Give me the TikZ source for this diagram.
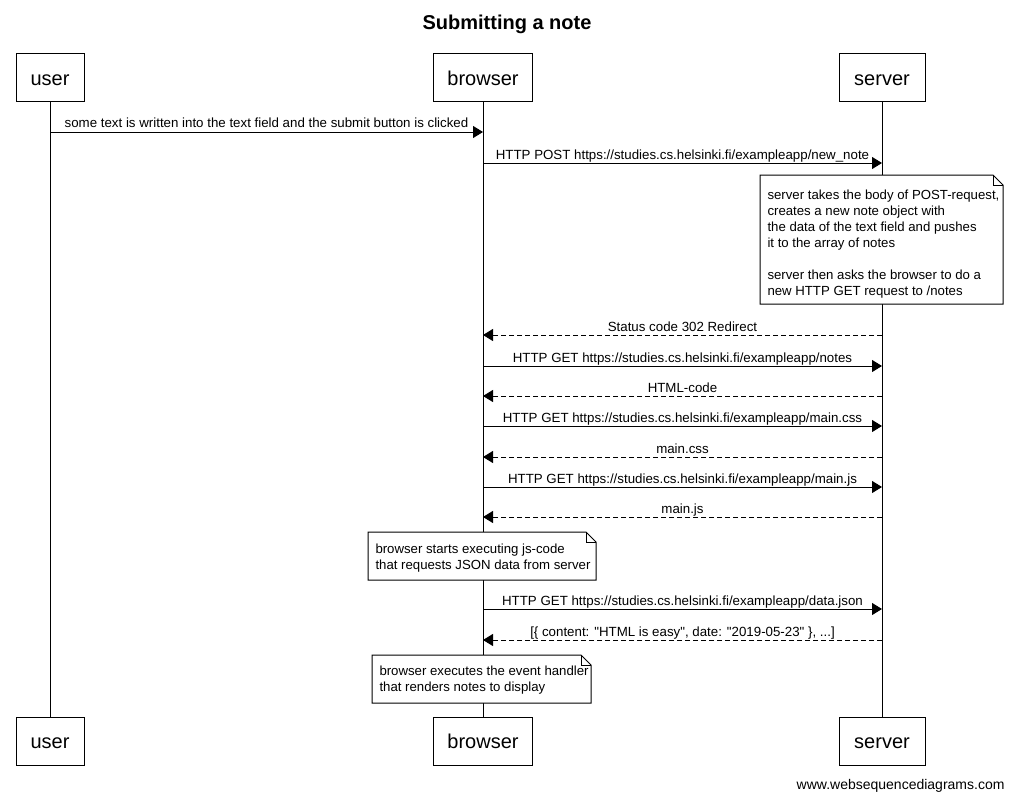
\documentclass[tikz,border=0pt]{standalone}
\usepackage{fontspec}
\setmainfont{Liberation Sans}[Ligatures=TeXOff]
\usetikzlibrary{arrows.meta}
\begin{document}
\begin{tikzpicture}[x=1pt,y=-1pt,line width=1pt,
  actor/.style={draw,minimum height=48pt,inner sep=0pt,text height=19pt,text depth=4pt,font=\fontsize{20}{24}\selectfont},
  msg/.style={-{Triangle[length=10pt,width=12pt]}},
  reply/.style={msg,dash pattern=on 5pt off 3pt},
  lbl/.style={anchor=base,yshift=4pt,inner sep=0pt,font=\fontsize{13.3}{16}\selectfont},
  notebox/.style={draw,fill=white},
  notetext/.style={anchor=west,inner sep=0pt,align=left,font=\fontsize{13.2}{16}\selectfont}]
\path[use as bounding box,fill=white] (0,0) rectangle (1013,800);
\node[font=\fontsize{20}{24}\selectfont\bfseries] (title) at (507,24) {Submitting a note};
% actors
\node[actor,minimum width=68pt] (ut) at (50,77.5) {user};
\node[actor,minimum width=99pt] (bt) at (483,77.5) {browser};
\node[actor,minimum width=86pt] (st) at (882,77.5) {server};
\node[actor,minimum width=68pt] (ub) at (50,741) {user};
\node[actor,minimum width=99pt] (bb) at (483,741) {browser};
\node[actor,minimum width=86pt] (sb) at (882,741) {server};
\draw (ut.south) -- (ub.north);
\draw (bt.south) -- (bb.north);
\draw (st.south) -- (sb.north);
% messages
\draw[msg] (ut.south |- 0,132) -- node[lbl]{some text is written into the text field and the submit button is clicked} (bt.south |- 0,132);
\draw[msg] (bt.south |- 0,163) -- node[lbl]{HTTP POST https://studies.cs.helsinki.fi/exampleapp/new\_note} (st.south |- 0,163);
% note 1
\path[notebox] (760,175) -- (993,175) -- (1003,185) -- (1003,304) -- (760,304) -- cycle;
\draw (993,175) -- (993,185) -- (1003,185);
\node[notetext] (n1) at (767,244) {server takes the body of POST-request,\\creates a new note object with\\the data of the text field and pushes\\it to the array of notes\\[16pt]server then asks the browser to do a\\new HTTP GET request to /notes};
\draw[reply] (st.south |- 0,335) -- node[lbl]{Status code 302 Redirect} (bt.south |- 0,335);
\draw[msg] (bt.south |- 0,366) -- node[lbl]{HTTP GET https://studies.cs.helsinki.fi/exampleapp/notes} (st.south |- 0,366);
\draw[reply] (st.south |- 0,396) -- node[lbl]{HTML-code} (bt.south |- 0,396);
\draw[msg] (bt.south |- 0,426) -- node[lbl]{HTTP GET https://studies.cs.helsinki.fi/exampleapp/main.css} (st.south |- 0,426);
\draw[reply] (st.south |- 0,457) -- node[lbl]{main.css} (bt.south |- 0,457);
\draw[msg] (bt.south |- 0,487) -- node[lbl]{HTTP GET https://studies.cs.helsinki.fi/exampleapp/main.js} (st.south |- 0,487);
\draw[reply] (st.south |- 0,517) -- node[lbl]{main.js} (bt.south |- 0,517);
% note 2
\path[notebox] (368,532) -- (586,532) -- (596,542) -- (596,580) -- (368,580) -- cycle;
\draw (586,532) -- (586,542) -- (596,542);
\node[notetext] (n2) at (375,558) {browser starts executing js-code\\that requests JSON data from server};
\draw[msg] (bt.south |- 0,609) -- node[lbl]{HTTP GET https://studies.cs.helsinki.fi/exampleapp/data.json} (st.south |- 0,609);
\draw[reply] (st.south |- 0,640) -- node[lbl]{[\{ content: "HTML is easy", date: "2019-05-23" \}, ...]} (bt.south |- 0,640);
% note 3
\path[notebox] (372,655) -- (581,655) -- (591,665) -- (591,703) -- (372,703) -- cycle;
\draw (581,655) -- (581,665) -- (591,665);
\node[notetext] (n3) at (379,680) {browser executes the event handler\\that renders notes to display};
\node[anchor=base east,inner sep=0pt,font=\fontsize{14}{16}\selectfont] (wsd) at (1005,789) {www.websequencediagrams.com};
\end{tikzpicture}
\end{document}
